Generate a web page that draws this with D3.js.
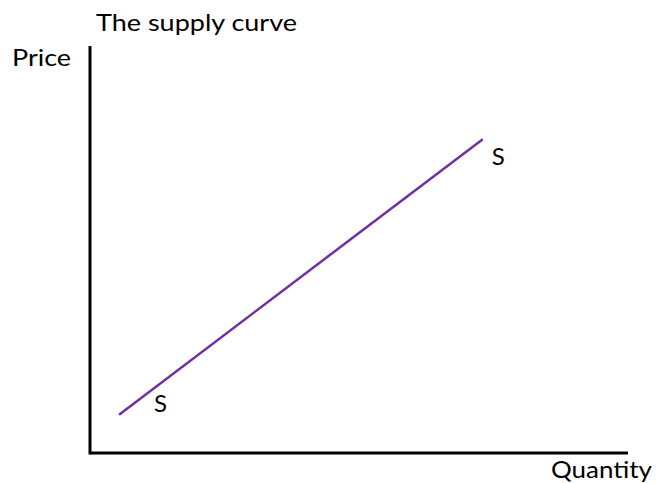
<!DOCTYPE html>
<html>
<head>
<meta charset="utf-8">
<script src="https://cdn.jsdelivr.net/npm/d3@7"></script>
<style>
  html, body { margin: 0; padding: 0; background: #fff; }
  svg { display: block; font-family: Lato, "Open Sans", sans-serif; }
</style>
</head>
<body>
<svg id="chart" width="656" height="483"></svg>
<script>
// Supply schedule: quantity vs price (relative units)
const quantity = [5.4, 73];
const price = [9.4, 77.1];
const curveLabel = "S";
const title = "The supply curve";
const yTitle = "Price";
const xTitle = "Quantity";

const svg = d3.select("#chart");
const x = d3.scaleLinear().domain([0, 100]).range([90, 628]);
const y = d3.scaleLinear().domain([0, 100]).range([453, 46]);

// Axes as plain lines, no ticks
svg.append("line")
  .attr("x1", x(0)).attr("x2", x(0))
  .attr("y1", y(100)).attr("y2", y(0) + 1.5)
  .attr("stroke", "#000").attr("stroke-width", 3);
svg.append("line")
  .attr("x1", x(0)).attr("x2", x(100))
  .attr("y1", y(0)).attr("y2", y(0))
  .attr("stroke", "#000").attr("stroke-width", 3);

// Supply line
const pts = quantity.map((q, i) => [q, price[i]]);
svg.append("path")
  .datum(pts)
  .attr("d", d3.line().x(d => x(d[0])).y(d => y(d[1])))
  .attr("fill", "none")
  .attr("stroke", "#7030A0")
  .attr("stroke-width", 2.5);

// Curve end labels
svg.append("text").text(curveLabel)
  .attr("x", x(quantity[0]) + 35).attr("y", y(price[0]) - 3)
  .attr("font-size", 24).attr("fill", "#000");
svg.append("text").text(curveLabel)
  .attr("x", x(quantity[1]) + 9).attr("y", y(price[1]) + 26)
  .attr("font-size", 24).attr("fill", "#000");

// Titles
svg.append("text").text(title)
  .attr("x", 96).attr("y", 31)
  .attr("font-size", 24)
  .attr("textLength", 201).attr("lengthAdjust", "spacingAndGlyphs");
svg.append("text").text(yTitle)
  .attr("x", 12).attr("y", 66)
  .attr("font-size", 24)
  .attr("textLength", 59).attr("lengthAdjust", "spacingAndGlyphs");
svg.append("text").text(xTitle)
  .attr("x", 551).attr("y", 478)
  .attr("font-size", 24)
  .attr("textLength", 101).attr("lengthAdjust", "spacingAndGlyphs");
</script>
</body>
</html>
